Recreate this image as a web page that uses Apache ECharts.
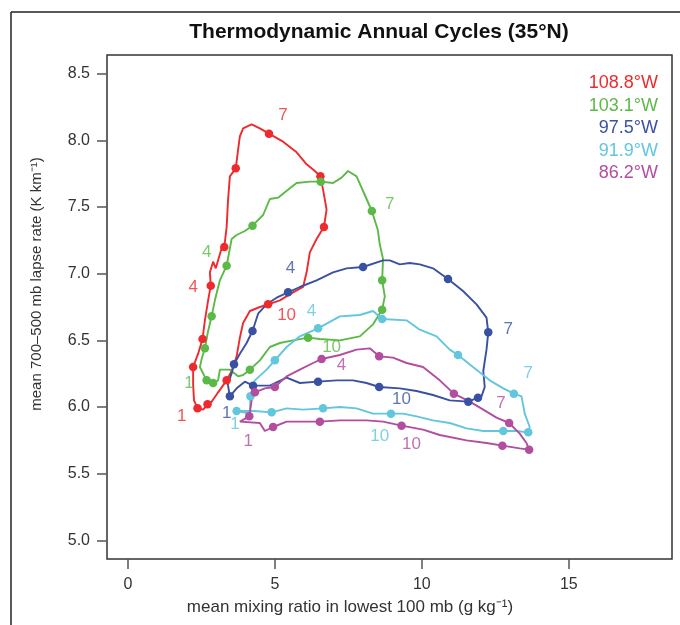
<!DOCTYPE html>
<html><head><meta charset="utf-8">
<script src="https://cdn.jsdelivr.net/npm/echarts@6/dist/echarts.min.js"></script>
<style>html,body{margin:0;padding:0;background:#fff}#c{width:680px;height:625px}</style>
</head><body><div id="c"></div>
<script>
const stations = ['108.8°W', '103.1°W', '97.5°W', '91.9°W', '86.2°W'];
const colors = ['#ee2a2e', '#5cb947', '#3a51a3', '#62c6dc', '#b24d9f'];
const xTicks = [0, 5, 10, 15];
const yTicks = [5.0, 5.5, 6.0, 6.5, 7.0, 7.5, 8.0, 8.5];

const redPath = [[2.37,5.99],[2.25,6.05],[2.22,6.17],[2.22,6.23],[2.22,6.30],[2.39,6.40],[2.54,6.51],[2.62,6.65],[2.73,6.80],[2.82,6.91],[2.79,7.01],[2.90,7.09],[2.99,7.04],[3.19,7.19],[3.28,7.20],[3.36,7.35],[3.41,7.56],[3.47,7.73],[3.67,7.79],[3.75,7.93],[3.81,8.03],[3.92,8.09],[4.21,8.12],[4.49,8.09],[4.80,8.05],[5.28,7.99],[5.74,7.91],[6.08,7.82],[6.36,7.77],[6.55,7.73],[6.64,7.63],[6.76,7.48],[6.67,7.35],[6.42,7.26],[6.19,7.16],[6.08,7.01],[5.96,6.90],[5.62,6.86],[5.17,6.80],[4.77,6.77],[4.49,6.75],[4.15,6.72],[3.92,6.63],[3.81,6.52],[3.70,6.38],[3.53,6.27],[3.36,6.20],[3.07,6.11],[2.85,6.04],[2.71,6.02],[2.56,5.98],[2.37,5.99]];
const redMonths = [[2.37,5.99],[2.22,6.30],[2.54,6.51],[2.82,6.91],[3.28,7.20],[3.67,7.79],[4.80,8.05],[6.55,7.73],[6.67,7.35],[4.77,6.77],[3.36,6.20],[2.71,6.02]];
const redLabels = [[1.83,5.93,'1'],[2.22,6.90,'4'],[5.28,8.19,'7'],[5.40,6.69,'10']];

const greenPath = [[2.68,6.20],[2.45,6.30],[2.52,6.37],[2.62,6.44],[2.72,6.56],[2.85,6.68],[2.96,6.80],[3.13,6.95],[3.36,7.06],[3.53,7.26],[3.70,7.29],[3.98,7.32],[4.24,7.36],[4.60,7.44],[4.83,7.56],[5.11,7.57],[5.51,7.64],[5.74,7.68],[6.19,7.69],[6.56,7.69],[6.98,7.68],[7.27,7.72],[7.49,7.77],[7.78,7.73],[8.06,7.59],[8.30,7.47],[8.50,7.33],[8.57,7.22],[8.68,7.11],[8.65,6.95],[8.74,6.83],[8.65,6.73],[8.34,6.62],[7.89,6.53],[7.21,6.50],[6.53,6.51],[6.13,6.52],[5.62,6.50],[5.17,6.48],[4.83,6.45],[4.49,6.35],[4.15,6.28],[3.92,6.24],[3.75,6.23],[3.47,6.28],[3.13,6.28],[3.07,6.20],[2.90,6.18],[2.68,6.20]];
const greenMonths = [[2.68,6.20],[2.62,6.44],[2.85,6.68],[3.36,7.06],[4.24,7.36],[6.56,7.69],[8.30,7.47],[8.65,6.95],[8.65,6.73],[6.13,6.52],[4.15,6.28],[2.90,6.18]];
const greenLabels = [[2.08,6.18,'1'],[2.68,7.16,'4'],[8.91,7.52,'7'],[6.93,6.45,'10']];

const bluePath = [[3.47,6.08],[3.40,6.17],[3.54,6.26],[3.61,6.32],[3.81,6.40],[4.04,6.48],[4.24,6.57],[4.43,6.70],[4.72,6.77],[5.06,6.82],[5.45,6.86],[5.85,6.90],[6.42,6.95],[6.98,7.01],[7.44,7.04],[8.00,7.05],[8.68,7.10],[8.91,7.10],[9.25,7.07],[9.59,7.08],[9.93,7.07],[10.38,7.04],[10.89,6.96],[11.40,6.87],[11.86,6.77],[12.20,6.67],[12.26,6.56],[12.20,6.43],[12.09,6.27],[12.14,6.15],[12.03,6.08],[11.91,6.07],[11.58,6.04],[10.95,6.05],[10.38,6.09],[9.82,6.12],[9.25,6.14],[8.55,6.15],[8.12,6.18],[7.66,6.20],[7.10,6.20],[6.47,6.19],[5.85,6.18],[5.40,6.22],[4.83,6.16],[4.26,6.16],[3.98,6.19],[3.70,6.14],[3.47,6.08]];
const blueMonths = [[3.47,6.08],[3.61,6.32],[4.24,6.57],[5.45,6.86],[8.00,7.05],[10.89,6.96],[12.26,6.56],[11.91,6.07],[11.58,6.04],[8.55,6.15],[6.47,6.19],[4.26,6.16]];
const blueLabels = [[3.36,5.95,'1'],[5.53,7.04,'4'],[12.94,6.58,'7'],[9.31,6.06,'10']];

const cyanPath = [[3.70,5.97],[4.15,5.95],[4.17,6.08],[4.32,6.20],[4.72,6.28],[5.00,6.35],[5.40,6.45],[5.85,6.53],[6.47,6.59],[7.21,6.68],[7.89,6.69],[8.34,6.72],[8.65,6.66],[9.48,6.65],[9.93,6.58],[10.50,6.53],[10.95,6.43],[11.23,6.39],[11.74,6.30],[12.31,6.20],[12.77,6.14],[13.13,6.10],[13.39,6.08],[13.50,5.95],[13.67,5.85],[13.62,5.81],[13.22,5.82],[12.77,5.82],[12.09,5.82],[11.52,5.84],[10.95,5.88],[10.38,5.90],[9.82,5.93],[9.36,5.95],[8.95,5.95],[8.34,5.95],[7.78,5.99],[7.21,6.00],[6.64,5.99],[5.96,5.98],[5.40,5.99],[4.89,5.96],[4.30,5.97],[3.70,5.97]];
const cyanMonths = [[3.70,5.97],[4.17,6.08],[5.00,6.35],[6.47,6.59],[8.65,6.66],[11.23,6.39],[13.13,6.10],[13.62,5.81],[12.77,5.82],[8.95,5.95],[6.64,5.99],[4.89,5.96]];
const cyanLabels = [[3.64,5.87,'1'],[6.25,6.72,'4'],[13.62,6.25,'7'],[8.57,5.78,'10']];

const magentaPath = [[4.13,5.93],[4.21,6.05],[4.32,6.11],[4.66,6.14],[5.00,6.15],[5.40,6.23],[5.85,6.28],[6.30,6.33],[6.59,6.36],[7.21,6.39],[7.78,6.43],[8.23,6.44],[8.55,6.38],[9.02,6.37],[9.48,6.33],[10.04,6.30],[10.61,6.20],[11.09,6.10],[11.63,6.04],[12.09,5.98],[12.54,5.92],[12.97,5.88],[13.33,5.80],[13.56,5.73],[13.65,5.68],[13.33,5.69],[12.74,5.71],[12.20,5.73],[11.52,5.75],[10.61,5.79],[10.04,5.83],[9.31,5.86],[8.68,5.89],[8.12,5.90],[7.21,5.90],[6.53,5.89],[5.85,5.89],[5.40,5.89],[4.94,5.85],[4.66,5.82],[4.49,5.88],[3.81,5.89],[4.13,5.93]];
const magentaMonths = [[4.13,5.93],[4.32,6.11],[5.00,6.15],[6.59,6.36],[8.55,6.38],[11.09,6.10],[12.97,5.88],[13.65,5.68],[12.74,5.71],[9.31,5.86],[6.53,5.89],[4.94,5.85]];
const magentaLabels = [[4.09,5.74,'1'],[7.27,6.31,'4'],[12.69,6.03,'7'],[9.65,5.72,'10']];

const paths = [redPath, greenPath, bluePath, cyanPath, magentaPath];
const months = [redMonths, greenMonths, blueMonths, cyanMonths, magentaMonths];
const labels = [redLabels, greenLabels, blueLabels, cyanLabels, magentaLabels];

const FONT = 'Liberation Sans, Arial, Helvetica, sans-serif';
const series = [];
stations.forEach((s, i) => {
  series.push({
    name: s, type: 'line', data: paths[i], showSymbol: false, symbol: 'none',
    lineStyle: { color: colors[i], width: 1.9 }, itemStyle: { color: colors[i] },
    silent: true, animation: false, z: 2
  });
  series.push({
    name: s, type: 'scatter', data: months[i], symbolSize: 8.5,
    itemStyle: { color: colors[i], opacity: 1 }, silent: true, animation: false, z: 3
  });
  series.push({
    name: s + ' months', type: 'scatter', data: labels[i], symbolSize: 1,
    itemStyle: { color: 'rgba(0,0,0,0)' },
    label: { show: true, position: 'inside', formatter: p => p.value[2],
      color: colors[i], fontSize: 17, fontFamily: FONT },
    silent: true, animation: false, z: 4
  });
});

const chart = echarts.init(document.getElementById('c'), null, { renderer: 'canvas' });
chart.setOption({
  backgroundColor: '#fff',
  animation: false,
  title: {
    text: 'Thermodynamic Annual Cycles (35°N)', left: 379, top: 22, textAlign: 'center', padding: 0,
    textStyle: { fontSize: 21, fontWeight: 'bold', color: '#111', fontFamily: FONT }
  },
  legend: {
    data: stations.map((s, i) => ({ name: s, textStyle: { color: colors[i] } })),
    orient: 'vertical', right: 17, top: 72, align: 'right', icon: 'none',
    itemWidth: 0, itemHeight: 0, itemGap: 0, padding: 0, selectedMode: false,
    textStyle: { fontSize: 18, lineHeight: 22.5, fontFamily: FONT }
  },
  grid: { left: 107, right: 8, top: 55, bottom: 66, show: true, borderColor: '#333', borderWidth: 1.5, backgroundColor: 'transparent' },
  xAxis: {
    type: 'value', min: -0.71, max: 18.51,
    axisLine: { show: false, onZero: false }, splitLine: { show: false },
    axisTick: { show: true, length: 10, customValues: xTicks, lineStyle: { color: '#555', width: 1.5 } },
    axisLabel: { customValues: xTicks, margin: 18, fontSize: 16, color: '#333', fontFamily: FONT }
  },
  yAxis: {
    type: 'value', min: 4.86, max: 8.64,
    axisLine: { show: false, onZero: false }, splitLine: { show: false },
    axisTick: { show: true, length: 10, customValues: yTicks, lineStyle: { color: '#555', width: 1.5 } },
    axisLabel: { customValues: yTicks, margin: 17, fontSize: 16, color: '#333', fontFamily: FONT, formatter: v => v.toFixed(1) }
  },
  graphic: [
    { type: 'line', shape: { x1: 11, y1: 12, x2: 680, y2: 12 }, style: { stroke: '#222', lineWidth: 1.5 }, silent: true },
    { type: 'line', shape: { x1: 11, y1: 12, x2: 11, y2: 625 }, style: { stroke: '#222', lineWidth: 1.5 }, silent: true },
    { type: 'text', x: 350, y: 607, style: { text: 'mean mixing ratio in lowest 100 mb (g kg⁻¹)', align: 'center', verticalAlign: 'middle', fontSize: 17, fontFamily: FONT, fill: '#333' }, silent: true },
    { type: 'text', x: 37, y: 284, rotation: Math.PI / 2, style: { text: 'mean 700–500 mb lapse rate (K km⁻¹)', align: 'center', verticalAlign: 'middle', fontSize: 15, fontFamily: FONT, fill: '#333' }, silent: true }
  ],
  series: series
});
</script>
</body></html>
